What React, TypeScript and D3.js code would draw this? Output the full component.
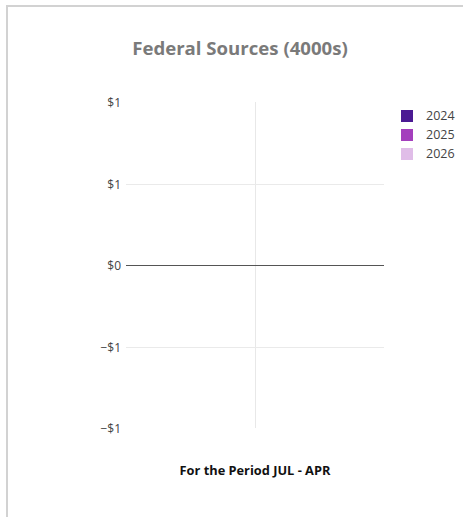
import React from "react";
import * as d3 from "d3";

const categories: string[] = [""];
const seriesNames = ["2024", "2025", "2026"];
const seriesColors = ["#4b1a93", "#a43fbd", "#e0bde8"];
const values2024: number[] = [];
const values2025: number[] = [];
const values2026: number[] = [];
const yDomain = [-1, 1];

const W = 463;
const H = 517;

export default function App() {
  const left = 126;
  const right = 384;
  const top = 102;
  const bottom = 428;
  const x = d3.scaleBand<string>().domain(categories).range([left, right]).padding(0.2);
  const y = d3.scaleLinear().domain(yDomain).range([bottom, top]);
  const ticks = y.ticks(5);
  const fmt = d3.format("$,.0f");
  const allSeries = [values2024, values2025, values2026];
  const inner = d3.scaleBand<number>().domain(d3.range(allSeries.length)).range([0, x.bandwidth()]);
  const font = "'Open Sans', sans-serif";

  return (
    <svg width={W} height={H} style={{ position: "absolute", left: 0, top: 0, background: "#fff" }} fontFamily={font}>
      <rect x={7} y={6} width={W} height={H} fill="#fff" stroke="#d2d2d2" strokeWidth={2} />
      <text x={240} y={55} textAnchor="middle" fontSize={18.6} fontWeight={700} fill="#7a7a7a">
        Federal Sources (4000s)
      </text>
      {categories.map((c) => (
        <line key={"v" + c} x1={Math.floor((x(c) ?? 0) + x.bandwidth() / 2) + 0.5} x2={Math.floor((x(c) ?? 0) + x.bandwidth() / 2) + 0.5} y1={top} y2={bottom} stroke="#e8e8e8" strokeWidth={1} />
      ))}
      {ticks.map((t) => {
        const yy = Math.round(y(t)) + 0.5;
        const isEdge = t === yDomain[0] || t === yDomain[1];
        return (
          <g key={t}>
            {!isEdge && (
              <line x1={left} x2={right} y1={yy} y2={yy} stroke={t === 0 ? "#555" : "#eaeaea"} strokeWidth={1} />
            )}
            <text x={121} y={yy} dy="0.35em" textAnchor="end" fontSize={12} fill="#444">
              {fmt(t)}
            </text>
          </g>
        );
      })}
      {allSeries.map((vals, si) =>
        vals.map((v, i) => (
          <rect
            key={si + "-" + i}
            x={(x(categories[i]) ?? 0) + (inner(si) ?? 0)}
            y={Math.min(y(v), y(0))}
            width={inner.bandwidth()}
            height={Math.abs(y(v) - y(0))}
            fill={seriesColors[si]}
          />
        ))
      )}
      <text x={255} y={475} textAnchor="middle" fontSize={12.8} fontWeight={700} fill="#111">
        For the Period JUL - APR
      </text>
      {seriesNames.map((n, i) => (
        <g key={n} transform={`translate(401, ${110 + i * 19})`}>
          <rect x={0} y={0} width={12} height={12} fill={seriesColors[i]} />
          <text x={25} y={6} dy="0.35em" fontSize={12.5} fill="#444">
            {n}
          </text>
        </g>
      ))}
    </svg>
  );
}
